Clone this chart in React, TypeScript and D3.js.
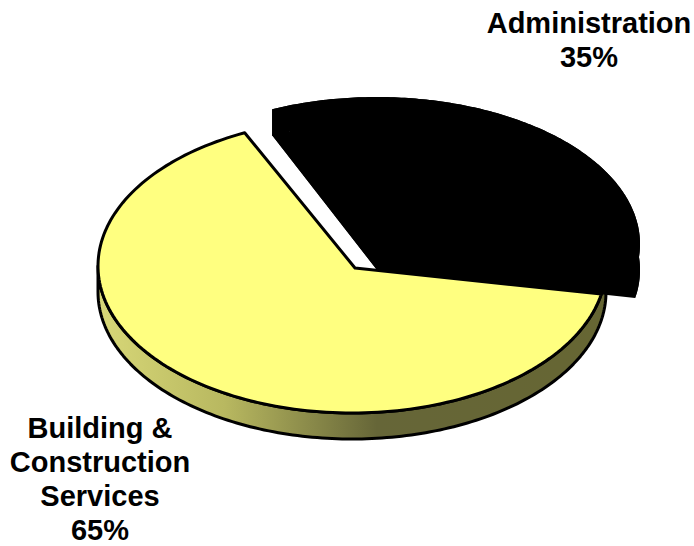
import React from "react";
import * as d3 from "d3";

const categories = ["Administration", "Building & Construction Services"];
const shares = [35, 65];
const startDeg = -25;

const W = 694, H = 546;
const FONT = "'Liberation Sans', Arial, sans-serif";

type Pt = [number, number];
const pie = d3.pie<number>().sort(null)
  .startAngle((startDeg * Math.PI) / 180)
  .endAngle(((startDeg + 360) * Math.PI) / 180);
const [blackArc, yellowArc] = pie(shares);

const sx = d3.scaleLinear().domain([-1, 1]).range([352 - 254, 352 + 254]);
const sy = d3.scaleLinear().domain([-1, 1]).range([266 + 147, 266 - 147]);
const bx = d3.scaleLinear().domain([-1, 1]).range([377 - 263, 377 + 263]);
const by = d3.scaleLinear().domain([-1, 1]).range([244 + 147, 244 - 147]);
const DEPTH = 26;
const APEX_SHIFT = 3;
const APEX_DROP = 2;
const BLACK_START_TRIM = (1.5 * Math.PI) / 180;

const line = d3.line<Pt>();
const samples = (a: number, b: number, n = 160) => d3.range(n + 1).map(i => a + ((b - a) * i) / n);
const rim = (a: number, b: number, x: any, y: any, dy = 0): Pt[] =>
  samples(a, b).map(t => [x(Math.sin(t)), y(Math.cos(t)) + dy] as Pt);

const yellowTop = line([[sx(0) + APEX_SHIFT, sy(0) + APEX_DROP], ...rim(yellowArc.startAngle, yellowArc.endAngle, sx, sy)])! + "Z";
const frontStart = Math.PI / 2;
const frontEnd = (3 * Math.PI) / 2;
const wallTop = rim(frontStart, frontEnd, sx, sy);
const wallBottom = rim(frontStart, frontEnd, sx, sy, DEPTH);
const wall = line([...wallTop, ...wallBottom.reverse()])! + "Z";

const bStart = blackArc.startAngle + BLACK_START_TRIM;
const blackTop: Pt[] = [[bx(0), by(0)], ...rim(bStart, blackArc.endAngle, bx, by)];
const blackFull = line(blackTop)! + "Z";
const blackLow = line(blackTop.map(([x, y]) => [x, y + DEPTH] as Pt))! + "Z";
const blackWall1 = line([
  ...rim(bStart, blackArc.endAngle, bx, by),
  ...rim(bStart, blackArc.endAngle, bx, by, DEPTH).reverse(),
])! + "Z";
const blackWall2 = line([
  [bx(0), by(0)], [bx(Math.sin(bStart)), by(Math.cos(bStart))],
  [bx(Math.sin(bStart)), by(Math.cos(bStart)) + DEPTH], [bx(0), by(0) + DEPTH],
])! + "Z";

const labelA = [categories[0], `${shares[0]}%`];
const labelB = ["Building &", "Construction", "Services", `${shares[1]}%`];

export default function App() {
  return (
    <svg width={W} height={H} style={{ position: "fixed", left: 0, top: 0, background: "#fff" }}>
      <defs>
        <linearGradient id="wall" gradientUnits="userSpaceOnUse" x1={98} x2={605} y1={0} y2={0}>
          <stop offset="0" stopColor="#d8d878" />
          <stop offset="0.25" stopColor="#b8b860" />
          <stop offset="0.55" stopColor="#666638" />
          <stop offset="1" stopColor="#666633" />
        </linearGradient>
      </defs>
      <path d={wall} fill="url(#wall)" stroke="#000" strokeWidth={3} strokeLinejoin="round" />
      {[blackFull, blackLow, blackWall1, blackWall2].map((d, i) => <path key={i} d={d} fill="#000" />)}
      <path d={yellowTop} fill="#ffff80" stroke="#000" strokeWidth={3} strokeLinejoin="round" />
      <g fontFamily={FONT} fontWeight={700} fontSize={29} textAnchor="middle" fill="#000">
        {labelA.map((s, i) => <text key={s} x={589} y={33 + i * 34}>{s}</text>)}
        {labelB.map((s, i) => <text key={s} x={100} y={438 + i * 34}>{s}</text>)}
      </g>
    </svg>
  );
}
